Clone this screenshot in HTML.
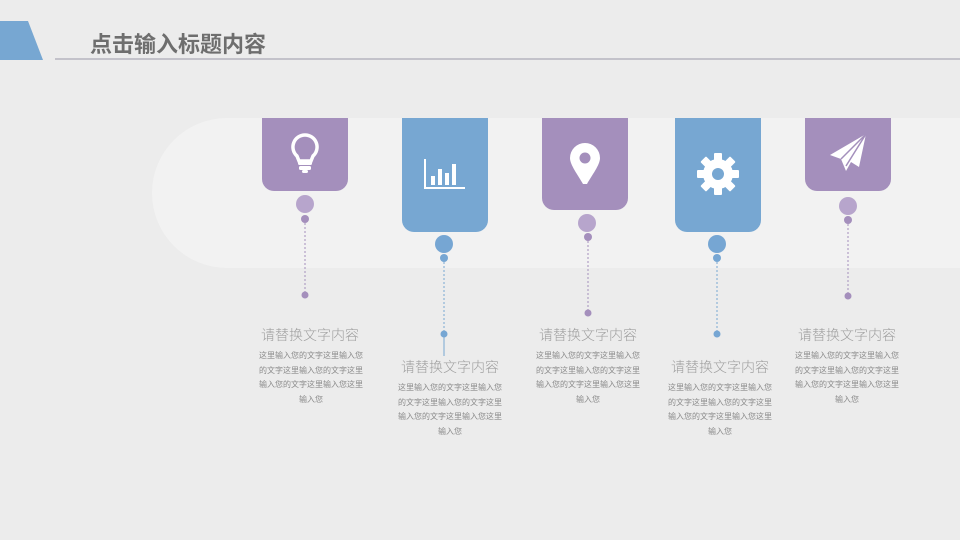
<!DOCTYPE html>
<html><head><meta charset="utf-8"><style>
*{margin:0;padding:0;box-sizing:border-box}
body{width:960px;height:540px;overflow:hidden;background:#ececec;position:relative;font-family:"Liberation Sans","Noto Sans CJK SC",sans-serif}
.a{position:absolute}
.band{left:152px;top:118px;width:840px;height:150px;background:#f2f2f2;border-radius:75px 0 0 75px}
.card{top:118px;width:86px;border-radius:0 0 12px 12px}
.p{background:#a48fbc}.b{background:#77a7d2}
.t{width:150px;text-align:center;font-size:14px;color:#a0a0a0;font-weight:300}
.d{width:106px;text-align:center;font-size:8px;line-height:14.5px;color:#8a8a8a;word-break:break-all}
</style></head><body>
<svg class="a" style="left:0;top:0" width="960" height="540">
<polygon points="0,21 28,21 43,60 0,60" fill="#77a7d2"/>
<rect x="55" y="58" width="905" height="2" fill="#c3c2ca"/>
</svg>
<div class="a" style="left:90px;top:27px;font-size:22px;font-weight:bold;color:#6e6e6e">点击输入标题内容</div>
<div class="a band"></div>
<div class="a card p" style="left:262px;height:73px"></div>
<div class="a card b" style="left:402px;height:114px"></div>
<div class="a card p" style="left:542px;height:92px"></div>
<div class="a card b" style="left:675px;height:114px"></div>
<div class="a card p" style="left:805px;height:73px"></div>
<svg class="a" style="left:0;top:0" width="960" height="540">
<g fill="#fff">
<path d="M305,135 a12,12 0 0 1 8,21 l-2,5 h-12 l-2,-5 a12,12 0 0 1 8,-21z" fill="none" stroke="#fff" stroke-width="3.5"/>
<rect x="298" y="161" width="14" height="4" rx="1.5"/><rect x="299" y="166" width="12" height="4" rx="1.5"/><rect x="302" y="170" width="6" height="3" rx="1.5"/>
<rect x="424" y="159" width="2" height="30"/><rect x="424" y="187" width="41" height="2"/>
<rect x="431" y="176" width="4" height="9"/><rect x="438" y="169" width="4" height="16"/><rect x="445" y="173" width="4" height="12"/><rect x="452" y="164" width="4" height="21"/>
<path d="M585,143 a15,15 0 0 1 15,15 c0,7 -8,17 -13,26 h-4 c-5,-9 -13,-19 -13,-26 a15,15 0 0 1 15,-15z"/>
<circle cx="585" cy="158" r="5.5" fill="#a48fbc"/>
<g transform="translate(718,174)">
<g><rect x="-4" y="-21" width="8" height="42" rx="1"/><rect x="-4" y="-21" width="8" height="42" rx="1" transform="rotate(45)"/><rect x="-4" y="-21" width="8" height="42" rx="1" transform="rotate(90)"/><rect x="-4" y="-21" width="8" height="42" rx="1" transform="rotate(135)"/></g>
<circle r="15"/><circle r="6" fill="#77a7d2"/></g>
<path d="M866,134 L830,155 L841,159 L846,171 L851,162 L859,167 Z"/>
<path d="M841,159 L866,134 L846,166" fill="none" stroke="#a48fbc" stroke-width="1.5"/>
</g>
<g stroke-dasharray="2,2" stroke-width="1">
<line x1="305" y1="219" x2="305" y2="295" stroke="#a48fbc"/>
<line x1="444" y1="258" x2="444" y2="334" stroke="#77a7d2"/>
<line x1="588" y1="237" x2="588" y2="313" stroke="#a48fbc"/>
<line x1="717" y1="258" x2="717" y2="334" stroke="#77a7d2"/>
<line x1="848" y1="220" x2="848" y2="296" stroke="#a48fbc"/>
</g>
<line x1="444" y1="334" x2="444" y2="356" stroke="#77a7d2"/>
<g fill="#b7a5cc"><circle cx="305" cy="204" r="9"/><circle cx="587" cy="223" r="9"/><circle cx="848" cy="206" r="9"/></g>
<g fill="#76a6d3"><circle cx="444" cy="244" r="9"/><circle cx="717" cy="244" r="9"/></g>
<g fill="#a48fbc"><circle cx="305" cy="219" r="4"/><circle cx="305" cy="295" r="3.5"/><circle cx="588" cy="237" r="4"/><circle cx="588" cy="313" r="3.5"/><circle cx="848" cy="220" r="4"/><circle cx="848" cy="296" r="3.5"/></g>
<g fill="#76a6d3"><circle cx="444" cy="258" r="4"/><circle cx="444" cy="334" r="3.5"/><circle cx="717" cy="258" r="4"/><circle cx="717" cy="334" r="3.5"/></g>
</svg>
<div class="a t" style="left:235px;top:325px">请替换文字内容</div>
<div class="a d" style="left:258px;top:349px">这里输入您的文字这里输入您的文字这里输入您的文字这里输入您的文字这里输入您这里输入您</div>
<div class="a t" style="left:375px;top:357px">请替换文字内容</div>
<div class="a d" style="left:397px;top:381px">这里输入您的文字这里输入您的文字这里输入您的文字这里输入您的文字这里输入您这里输入您</div>
<div class="a t" style="left:513px;top:325px">请替换文字内容</div>
<div class="a d" style="left:535px;top:349px">这里输入您的文字这里输入您的文字这里输入您的文字这里输入您的文字这里输入您这里输入您</div>
<div class="a t" style="left:645px;top:357px">请替换文字内容</div>
<div class="a d" style="left:667px;top:381px">这里输入您的文字这里输入您的文字这里输入您的文字这里输入您的文字这里输入您这里输入您</div>
<div class="a t" style="left:772px;top:325px">请替换文字内容</div>
<div class="a d" style="left:794px;top:349px">这里输入您的文字这里输入您的文字这里输入您的文字这里输入您的文字这里输入您这里输入您</div>
</body></html>
